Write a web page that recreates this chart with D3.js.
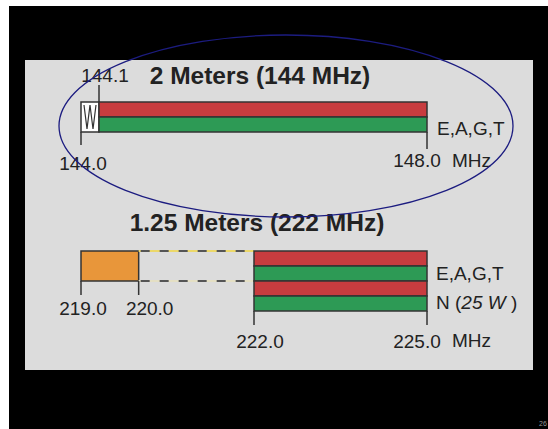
<!DOCTYPE html>
<meta charset="utf-8">
<style>
body { margin: 0; background: #fff; }
svg text { font-family: "Liberation Sans", Arial, sans-serif; fill: #222; }
.title { font-weight: bold; font-size: 24.5px; text-anchor: middle; }
.lbl { font-size: 19px; }
.bar { stroke: #333; stroke-width: 1.5; }
.tick { stroke: #333; stroke-width: 1.5; }
</style>
<svg width="548" height="429"></svg>
<script src="https://d3js.org/d3.v7.min.js"></script>
<script>

// 2 meters
var title2 = "2 Meters (144 MHz)";
var edges2 = [144.0, 144.1, 148.0];
var tickLabels2 = ["144.0", "144.1", "148.0"];
var rows2 = ["#c83c3f", "#2d9a55"];
var privileges2 = ["E,A,G,T"];

// 1.25 meters
var title125 = "1.25 Meters (222 MHz)";
var edges125 = [219.0, 220.0, 222.0, 225.0];
var tickLabels125 = ["219.0", "220.0", "222.0", "225.0"];
var rows125 = ["#c83c3f", "#2d9a55", "#c83c3f", "#2d9a55"];
var privileges125 = ["E,A,G,T", "N (25 W )"];
var unit = "MHz";
var pageNumber = "26";

var svg = d3.select("svg");

svg.append("rect").attr("x", 9).attr("y", 6).attr("width", 539).attr("height", 423).attr("fill", "#000");
svg.append("rect").attr("x", 25).attr("y", 60).attr("width", 508).attr("height", 310).attr("fill", "#dcdcdc");

// ---- 2 meters ----
var x2 = d3.scaleLinear().domain(edges2).range([81, 99, 427]);
var y2 = d3.scaleBand().domain(d3.range(rows2.length)).range([102, 132]);

svg.append("text").attr("class", "title").attr("x", 260).attr("y", 84).text(title2);

// CW-only box with zigzag
var g2 = svg.append("g");
g2.append("rect").attr("class", "bar")
  .attr("x", x2(edges2[0])).attr("y", y2.range()[0])
  .attr("width", x2(edges2[1]) - x2(edges2[0]))
  .attr("height", y2.range()[1] - y2.range()[0])
  .attr("fill", "#fff");
var zx0 = x2(edges2[0]) + 3, zx1 = x2(edges2[1]) - 3, zy0 = y2.range()[0] + 3, zy1 = y2.range()[1] - 3;
var zig = d3.range(5).map(function(i) {
  return [zx0 + (zx1 - zx0) * i / 4, i % 2 ? zy1 : zy0];
});
g2.append("path").attr("d", d3.line()(zig)).attr("fill", "none").attr("stroke", "#333").attr("stroke-width", 1.2);

g2.selectAll(".row").data(rows2).enter().append("rect")
  .attr("class", "bar")
  .attr("x", x2(edges2[1])).attr("width", x2(edges2[2]) - x2(edges2[1]))
  .attr("y", function(d, i) { return y2(i); })
  .attr("height", y2.bandwidth())
  .attr("fill", function(d) { return d; });

// ticks
var tickSpec2 = [
  {v: edges2[0], y1: y2.range()[1], y2: 145, ty: 170, dx: 2},
  {v: edges2[1], y1: y2.range()[0], y2: 85, ty: 82, dx: 6},
  {v: edges2[2], y1: y2.range()[1], y2: 149, ty: 167, dx: -10}
];
g2.selectAll(".tick").data(tickSpec2).enter().append("line")
  .attr("class", "tick")
  .attr("x1", function(d) { return x2(d.v); }).attr("x2", function(d) { return x2(d.v); })
  .attr("y1", function(d) { return d.y1; }).attr("y2", function(d) { return d.y2; });
g2.selectAll(".tl").data(tickSpec2).enter().append("text")
  .attr("class", "lbl")
  .attr("text-anchor", "middle")
  .attr("x", function(d) { return x2(d.v) + d.dx; })
  .attr("y", function(d) { return d.ty; })
  .text(function(d, i) { return tickLabels2[i]; });
g2.append("text").attr("class", "lbl").attr("x", 452).attr("y", 167).text(unit);
g2.selectAll(".pv").data(privileges2).enter().append("text")
  .attr("class", "lbl")
  .attr("x", x2(edges2[2]) + 10)
  .attr("y", y2.range()[1] + 3)
  .text(function(d) { return d; });

// ---- 1.25 meters ----
var x125 = d3.scaleLinear().domain([edges125[0], edges125[3]]).range([81, 427]);
var y125 = d3.scaleBand().domain(d3.range(rows125.length)).range([251, 311]);

svg.append("text").attr("class", "title").attr("x", 257).attr("y", 231).text(title125);

var g3 = svg.append("g");
g3.append("rect").attr("class", "bar")
  .attr("x", x125(edges125[0])).attr("width", x125(edges125[1]) - x125(edges125[0]))
  .attr("y", y125(0)).attr("height", y125(2) - y125(0))
  .attr("fill", "#e8963a");

// dashed connectors
var dashY = [{y: y125(0), gap: "#ecd86a"}, {y: y125(2), gap: "#e4dfc4"}];
dashY.forEach(function(d) {
  g3.append("line")
    .attr("x1", x125(edges125[1])).attr("x2", x125(edges125[2]))
    .attr("y1", d.y).attr("y2", d.y)
    .attr("stroke", d.gap).attr("stroke-width", 1.8);
  g3.append("line")
    .attr("x1", x125(edges125[1]) + 2).attr("x2", x125(edges125[2]))
    .attr("y1", d.y).attr("y2", d.y)
    .attr("stroke", "#555").attr("stroke-width", 1.8)
    .attr("stroke-dasharray", "9,10");
});

g3.selectAll(".row").data(rows125).enter().append("rect")
  .attr("class", "bar")
  .attr("x", x125(edges125[2])).attr("width", x125(edges125[3]) - x125(edges125[2]))
  .attr("y", function(d, i) { return y125(i); })
  .attr("height", y125.bandwidth())
  .attr("fill", function(d) { return d; });

var tickSpec125 = [
  {v: edges125[0], y1: y125(2), y2: 295, ty: 315, dx: 2},
  {v: edges125[1], y1: y125(2), y2: 295, ty: 315, dx: 11},
  {v: edges125[2], y1: y125.range()[1], y2: 325, ty: 348, dx: 6},
  {v: edges125[3], y1: y125.range()[1], y2: 325, ty: 348, dx: -10}
];
g3.selectAll(".tick").data(tickSpec125).enter().append("line")
  .attr("class", "tick")
  .attr("x1", function(d) { return x125(d.v); }).attr("x2", function(d) { return x125(d.v); })
  .attr("y1", function(d) { return d.y1; }).attr("y2", function(d) { return d.y2; });
g3.selectAll(".tl").data(tickSpec125).enter().append("text")
  .attr("class", "lbl")
  .attr("text-anchor", "middle")
  .attr("x", function(d) { return x125(d.v) + d.dx; })
  .attr("y", function(d) { return d.ty; })
  .text(function(d, i) { return tickLabels125[i]; });
g3.append("text").attr("class", "lbl").attr("x", 452).attr("y", 347).text(unit);

var pv = g3.selectAll(".pv").data(privileges125).enter().append("text")
  .attr("class", "lbl")
  .attr("x", x125(edges125[3]) + 9)
  .attr("y", function(d, i) { return y125(2 * i + 1) + 14 - i; });
pv.each(function(d) {
  var t = d3.select(this);
  var m = d.match(/^(.*\()(\d+ W )(\))$/);
  if (m) {
    t.append("tspan").text(m[1]);
    t.append("tspan").attr("font-style", "italic").text(m[2]);
    t.append("tspan").text(m[3]);
  } else {
    t.text(d);
  }
});

// ellipse highlight
svg.append("ellipse")
  .attr("cx", 286).attr("cy", 126).attr("rx", 227).attr("ry", 91)
  .attr("fill", "none").attr("stroke", "#1c1c80").attr("stroke-width", 1.3);

svg.append("text").attr("x", 539).attr("y", 426).attr("font-size", 7).style("fill", "#999").text(pageNumber);

</script>
